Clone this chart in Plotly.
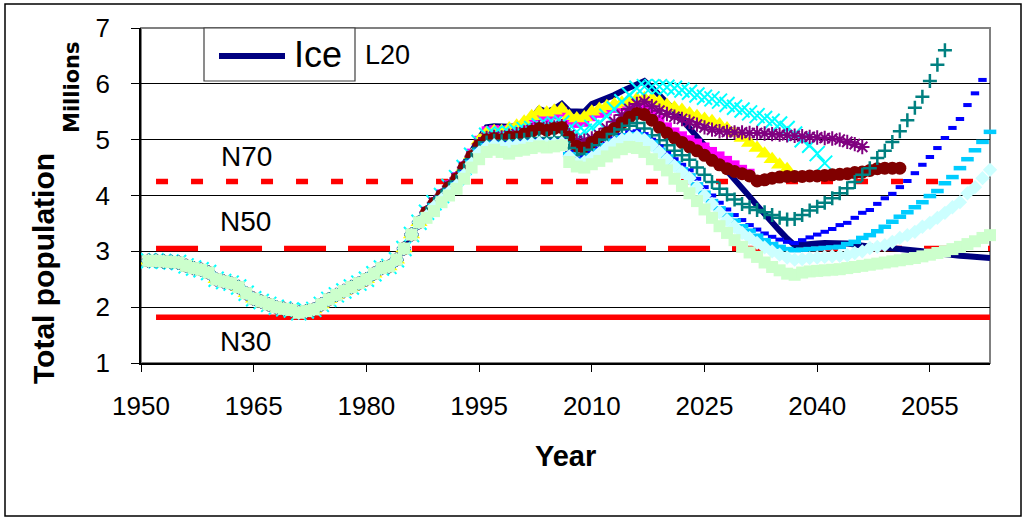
import plotly.graph_objects as go

# ---------------- data ----------------
# shared history 1951-1987 (all scenarios coincide)
hist_start = 1951
history = [2.83, 2.83, 2.82, 2.81, 2.80, 2.74, 2.70, 2.67, 2.62, 2.50,
           2.46, 2.43, 2.36, 2.25, 2.15, 2.10, 2.05, 2.00, 1.97, 1.95,
           1.90, 1.93, 1.96, 2.05, 2.14, 2.22, 2.29, 2.36, 2.43, 2.50,
           2.60, 2.70, 2.73, 2.85, 3.05, 3.30, 3.52]

# scenario values from 1988 onward
ice = [3.70, 3.88, 4.02, 4.18, 4.35, 4.55, 4.78, 5.02, 5.22, 5.24,
       5.23, 5.23, 5.24, 5.30, 5.38, 5.55, 5.50, 5.55, 5.64, 5.51,
       5.50, 5.50, 5.64, 5.69, 5.74, 5.80, 5.87, 5.93, 6.00, 6.05,
       5.93, 5.80, 5.67, 5.52, 5.36, 5.21, 5.06, 4.91, 4.76, 4.61,
       4.46, 4.30, 4.14, 3.98, 3.82, 3.66, 3.51, 3.37, 3.23, 3.11,
       3.12, 3.14, 3.14, 3.15, 3.15, 3.15, 3.14, 3.12, 3.10, 3.08,
       3.07, 3.07, 3.06, 3.05, 3.04, 3.02, 3.00, 2.98, 2.96, 2.94,
       2.93, 2.92, 2.91, 2.90, 2.89, 2.88]
magenta = [3.70, 3.88, 4.02, 4.18, 4.33, 4.52, 4.75, 4.98, 5.15, 5.17,
           5.16, 5.17, 5.18, 5.22, 5.30, 5.42, 5.40, 5.45, 5.50, 5.35,
           5.30, 5.32, 5.42, 5.48, 5.52, 5.57, 5.60, 5.62, 5.62, 5.58,
           5.48, 5.35, 5.22, 5.13, 5.06, 4.99, 4.93, 4.86, 4.78, 4.70,
           4.62, 4.54, 4.46, 4.39]
yellow = [3.68, 3.85, 3.98, 4.14, 4.30, 4.50, 4.72, 4.98, 5.12, 5.15,
          5.15, 5.20, 5.25, 5.32, 5.42, 5.50, 5.48, 5.52, 5.55, 5.42,
          5.38, 5.40, 5.50, 5.55, 5.60, 5.63, 5.66, 5.70, 5.73, 5.74,
          5.73, 5.68, 5.62, 5.57, 5.53, 5.47, 5.42, 5.37, 5.33, 5.27,
          5.20, 5.12, 5.03, 4.94, 4.85, 4.75, 4.65, 4.55, 4.47]
cyan = [3.70, 3.87, 4.00, 4.16, 4.32, 4.50, 4.72, 4.95, 5.08, 5.10,
        5.10, 5.12, 5.15, 5.18, 5.20, 5.25, 5.26, 5.28, 5.30, 5.20,
        5.14, 5.15, 5.22, 5.30, 5.42, 5.55, 5.68, 5.80, 5.92, 5.95,
        5.95, 5.95, 5.94, 5.92, 5.89, 5.85, 5.80, 5.76, 5.73, 5.69,
        5.63, 5.58, 5.53, 5.48, 5.43, 5.38, 5.33, 5.28, 5.20, 5.10,
        5.00, 4.90, 4.75, 4.58]
purple = [3.70, 3.87, 4.00, 4.16, 4.31, 4.50, 4.70, 4.92, 5.03, 5.05,
          5.04, 5.07, 5.10, 5.13, 5.17, 5.22, 5.20, 5.22, 5.24, 5.08,
          4.98, 4.98, 5.02, 5.08, 5.20, 5.32, 5.44, 5.55, 5.64, 5.68,
          5.60, 5.52, 5.46, 5.41, 5.37, 5.32, 5.27, 5.22, 5.18, 5.15,
          5.14, 5.13, 5.13, 5.12, 5.12, 5.11, 5.10, 5.09, 5.08, 5.07,
          5.06, 5.05, 5.04, 5.03, 5.02, 5.00, 4.96, 4.92, 4.87]
maroon = [3.70, 3.86, 4.00, 4.15, 4.30, 4.50, 4.70, 4.90, 5.00, 5.02,
          5.00, 5.05, 5.05, 5.10, 5.15, 5.20, 5.17, 5.20, 5.22, 5.05,
          4.88, 4.85, 4.95, 5.05, 5.12, 5.20, 5.30, 5.40, 5.47, 5.45,
          5.35, 5.22, 5.12, 5.03, 4.95, 4.87, 4.80, 4.72, 4.63, 4.55,
          4.48, 4.43, 4.39, 4.35, 4.26, 4.28, 4.31, 4.33, 4.34, 4.34,
          4.34, 4.35, 4.35, 4.36, 4.37, 4.38, 4.39, 4.41, 4.42, 4.45,
          4.48, 4.49, 4.49, 4.49]
teal = [3.68, 3.85, 3.98, 4.12, 4.25, 4.45, 4.65, 4.85, 4.95, 4.98,
        4.97, 4.98, 4.99, 5.00, 5.02, 5.03, 5.02, 5.03, 5.04, 4.85,
        4.72, 4.75, 4.82, 4.90, 5.00, 5.10, 5.18, 5.25, 5.30, 5.20,
        5.08, 4.99, 4.90, 4.80, 4.72, 4.64, 4.50, 4.37, 4.24, 4.12,
        4.02, 3.93, 3.85, 3.79, 3.74, 3.70, 3.65, 3.60, 3.57, 3.58,
        3.65, 3.73, 3.80, 3.87, 3.95, 4.04, 4.13, 4.24, 4.37, 4.49,
        4.67, 4.80, 4.96, 5.15, 5.35, 5.57, 5.77, 6.05, 6.34, 6.60]
blue = [3.66, 3.83, 3.96, 4.10, 4.22, 4.42, 4.62, 4.82, 4.92, 4.95,
        4.93, 4.94, 4.95, 4.96, 4.98, 4.99, 4.97, 4.98, 4.99, 4.78,
        4.66, 4.68, 4.76, 4.84, 4.93, 5.02, 5.08, 5.13, 5.15, 5.10,
        5.00, 4.88, 4.76, 4.65, 4.55, 4.45, 4.30, 4.15, 4.00, 3.87,
        3.75, 3.65, 3.56, 3.47, 3.39, 3.32, 3.26, 3.21, 3.17, 3.15,
        3.20, 3.25, 3.30, 3.35, 3.40, 3.47, 3.51, 3.60, 3.69, 3.74,
        3.85, 3.95, 4.03, 4.15, 4.26, 4.40, 4.55, 4.69, 4.85, 5.03,
        5.21, 5.37, 5.62, 5.83, 6.07]
skyblue = [3.65, 3.82, 3.95, 4.08, 4.20, 4.40, 4.60, 4.80, 4.90, 4.93,
           4.91, 4.92, 4.93, 4.94, 4.96, 4.97, 4.95, 4.96, 4.97, 4.74,
           4.62, 4.64, 4.72, 4.80, 4.90, 4.98, 5.04, 5.08, 5.10, 5.05,
           4.95, 4.82, 4.70, 4.58, 4.47, 4.36, 4.20, 4.05, 3.90, 3.77,
           3.65, 3.55, 3.45, 3.37, 3.28, 3.20, 3.13, 3.08, 3.04, 3.02,
           3.03, 3.04, 3.05, 3.06, 3.07, 3.08, 3.13, 3.17, 3.24, 3.29,
           3.36, 3.44, 3.53, 3.62, 3.70, 3.79, 3.88, 3.99, 4.08, 4.22,
           4.33, 4.49, 4.65, 4.81, 4.96, 5.14]
lightcyan = [3.63, 3.80, 3.93, 4.06, 4.18, 4.37, 4.57, 4.77, 4.87, 4.90,
             4.88, 4.89, 4.90, 4.91, 4.93, 4.94, 4.92, 4.93, 4.94, 4.70,
             4.58, 4.60, 4.68, 4.76, 4.86, 4.94, 5.00, 5.04, 5.05, 5.00,
             4.90, 4.78, 4.65, 4.53, 4.42, 4.31, 4.15, 4.00, 3.85, 3.70,
             3.56, 3.44, 3.33, 3.24, 3.15, 3.07, 3.00, 2.94, 2.89, 2.85,
             2.86, 2.88, 2.89, 2.90, 2.91, 2.92, 2.93, 2.97, 3.00, 3.06,
             3.08, 3.11, 3.17, 3.24, 3.29, 3.35, 3.44, 3.51, 3.60, 3.69,
             3.79, 3.88, 4.04, 4.15, 4.31, 4.46]
palegreen = [3.60, 3.72, 3.88, 4.00, 4.12, 4.30, 4.50, 4.65, 4.78, 4.82,
             4.78, 4.75, 4.80, 4.82, 4.85, 4.88, 4.86, 4.88, 4.90, 4.60,
             4.52, 4.50, 4.56, 4.62, 4.70, 4.77, 4.83, 4.87, 4.85, 4.78,
             4.65, 4.55, 4.45, 4.30, 4.17, 4.04, 3.90, 3.75, 3.60, 3.45,
             3.33, 3.20, 3.08, 2.98, 2.90, 2.80, 2.72, 2.66, 2.60, 2.58,
             2.62, 2.64, 2.65, 2.66, 2.67, 2.68, 2.70, 2.72, 2.74, 2.76,
             2.78, 2.80, 2.82, 2.84, 2.86, 2.88, 2.91, 2.94, 2.97, 3.00,
             3.04, 3.08, 3.13, 3.18, 3.24, 3.29]

# reference levels
ref_names = ["N70", "N50", "N30"]
ref_values = [4.25, 3.05, 1.82]
ref_span = [1952, 2063]

x_ticks = [1950, 1965, 1980, 1995, 2010, 2025, 2040, 2055]
y_ticks = [1, 2, 3, 4, 5, 6, 7]

FONT = "Arial, Liberation Sans, sans-serif"


def series(tail):
    vals = history + tail
    return list(range(hist_start, hist_start + len(vals))), vals


fig = go.Figure()

# reference lines (drawn beneath the scenarios)
ref_styles = {
    "N70": dict(color="#FF0000", width=5.5, dash="12px,23px"),
    "N50": dict(color="#FF0000", width=5.5, dash="42px,22px"),
    "N30": dict(color="#FF0000", width=5.5, dash="solid"),
}
for name, val in zip(ref_names, ref_values):
    fig.add_trace(go.Scatter(x=ref_span, y=[val, val], mode="lines",
                             line=ref_styles[name], showlegend=False,
                             name=name, hoverinfo="skip", cliponaxis=False))

# Ice line
x, y = series(ice)
fig.add_trace(go.Scatter(x=x, y=y, mode="lines", name="Ice",
                         line=dict(color="#000080", width=6),
                         showlegend=False, cliponaxis=False))

marker_series = [
    ("S2", magenta, dict(symbol="square", size=10, color="#FF00FF")),
    ("S3", yellow, dict(symbol="triangle-up", size=15, color="#FFFF00")),
    ("S4", cyan, dict(symbol="x-thin-open", size=15, color="#00FFFF",
                      line=dict(color="#00FFFF", width=2))),
    ("S5", purple, dict(symbol="asterisk-open", size=12, color="#800080",
                        line=dict(color="#800080", width=2))),
    ("S6", maroon, dict(symbol="circle", size=13, color="#800000")),
    ("S7", teal, dict(symbol="cross-thin-open", size=10, color="#008080",
                      line=dict(color="#008080", width=2.5))),
    ("S8", blue, dict(symbol="line-ew-open", size=6, color="#0000FF",
                      line=dict(color="#0000FF", width=4))),
    ("S9", skyblue, dict(symbol="line-ew-open", size=9, color="#00CCFF",
                         line=dict(color="#00CCFF", width=4.5))),
    ("S10", lightcyan, dict(symbol="diamond", size=11, color="#CCFFFF")),
    ("S11", palegreen, dict(symbol="square", size=12, color="#CCFFCC")),
]
for name, tail, mk in marker_series:
    x, y = series(tail)
    fig.add_trace(go.Scatter(x=x, y=y, mode="markers", name=name,
                             marker=mk, showlegend=False, cliponaxis=False))

# plot-area geometry (pixels) for paper conversions
L, R, T, B = 141, 990, 28, 363
W, H = R - L, B - T


def px(xp):
    return (xp - L) / W


def py(yp):
    return (B - yp) / H


shapes = [
    # plot area border
    dict(type="rect", xref="paper", yref="paper", x0=0, x1=1, y0=0, y1=1,
         line=dict(color="#808080", width=2), layer="below"),
    # chart outer border
    dict(type="rect", xref="paper", yref="paper", x0=px(5), x1=px(1021),
         y0=py(516), y1=py(4), line=dict(color="#000000", width=1.5),
         layer="below"),
    # legend box
    dict(type="rect", xref="paper", yref="paper", x0=px(204), x1=px(355),
         y0=py(81), y1=py(28), line=dict(color="#404040", width=1.2),
         fillcolor="white", layer="above"),
    dict(type="line", xref="paper", yref="paper", x0=px(219), x1=px(285),
         y0=py(56), y1=py(56), line=dict(color="#000080", width=6),
         layer="above"),
]


def label(text, x, y, size, xref="x", yref="y", angle=0, family=FONT):
    return dict(text=text, x=x, y=y, xref=xref, yref=yref, textangle=angle,
                showarrow=False, xanchor="center", yanchor="middle",
                font=dict(family=family, size=size, color="black"))


annotations = [
    label("Ice", px(318), py(54), 36, "paper", "paper"),
    label("L20", 1982.8, 6.52, 27),
    label("N70", 1964.0, 4.69, 28),
    label("N50", 1963.9, 3.53, 28),
    label("N30", 1963.9, 1.38, 28),
    label("<b>Year</b>", 0.5, py(456), 29, "paper", "paper"),
    label("<b>Total population</b>", px(43), py(269), 30, "paper", "paper", -90),
    label("<b>Millions</b>", px(72), py(87), 21, "paper", "paper", -90,
          "DejaVu Sans, sans-serif"),
]

fig.update_layout(
    width=1028, height=521, autosize=False,
    margin=dict(l=L, r=1028 - R, t=T, b=521 - B, pad=0),
    paper_bgcolor="white", plot_bgcolor="white",
    showlegend=False,
    shapes=shapes, annotations=annotations,
    font=dict(family=FONT, color="black"),
)
fig.update_xaxes(range=[1950, 2063], tickmode="array", tickvals=x_ticks,
                 ticktext=[str(v) for v in x_ticks], showgrid=False,
                 zeroline=False, showline=True, linecolor="black", linewidth=1.5,
                 ticks="outside", ticklen=7, tickcolor="black",
                 tickfont=dict(family=FONT, size=26, color="black"),
                 ticklabelstandoff=12)
fig.update_yaxes(range=[1, 7], tickmode="array", tickvals=y_ticks,
                 showgrid=True, gridcolor="#000000", gridwidth=1,
                 zeroline=False, showline=True, linecolor="black", linewidth=1.5,
                 ticks="outside", ticklen=8, tickcolor="black",
                 tickfont=dict(family=FONT, size=26, color="black"),
                 ticklabelstandoff=16)

fig.write_html("out.html")
